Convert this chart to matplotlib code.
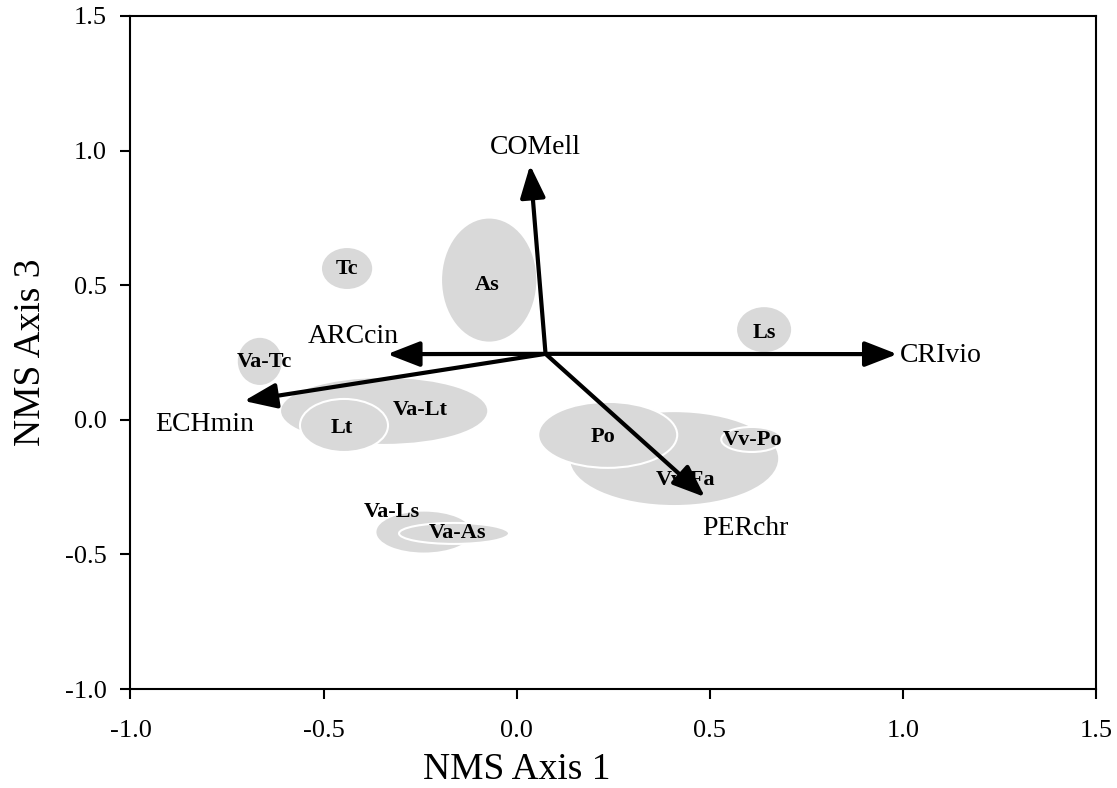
import matplotlib
matplotlib.use("Agg")
import matplotlib.pyplot as plt
from matplotlib.patches import Ellipse

# ---- data ----
group_names = ["Va-Lt", "Lt", "Va-Ls", "Va-As", "Vv-Fa", "Po", "Vv-Po", "Tc", "As", "Ls", "Va-Tc"]
group_x = [-0.343, -0.447, -0.240, -0.162, 0.408, 0.236, 0.609, -0.439, -0.071, 0.641, -0.665]
group_y = [0.033, -0.021, -0.417, -0.422, -0.144, -0.056, -0.073, 0.562, 0.519, 0.335, 0.217]
group_w = [0.534, 0.228, 0.246, 0.285, 0.539, 0.360, 0.158, 0.130, 0.244, 0.140, 0.114]
group_h = [0.245, 0.197, 0.152, 0.078, 0.345, 0.245, 0.093, 0.152, 0.457, 0.167, 0.175]
group_white_edge = [False, True, False, True, False, True, True, False, False, False, False]
label_x = [-0.250, -0.452, -0.323, -0.152, 0.437, 0.224, 0.610, -0.439, -0.076, 0.641, -0.652]
label_y = [0.036, -0.030, -0.342, -0.420, -0.224, -0.064, -0.075, 0.562, 0.500, 0.322, 0.215]

origin = (0.075, 0.245)
vec_names = ["COMell", "CRIvio", "ARCcin", "ECHmin", "PERchr"]
vec_x = [0.035, 0.986, -0.335, -0.706, 0.488]
vec_y = [0.946, 0.244, 0.244, 0.070, -0.287]
vec_lx = [0.048, 0.993, -0.424, -0.807, 0.592]
vec_ly = [1.013, 0.240, 0.308, -0.019, -0.402]
vec_ha = ["center", "left", "center", "center", "center"]

xticks = [-1.0, -0.5, 0.0, 0.5, 1.0, 1.5]
yticks = [-1.0, -0.5, 0.0, 0.5, 1.0, 1.5]

# ---- plot ----
plt.rcParams['font.family'] = ['Liberation Serif', 'DejaVu Serif']
fig = plt.figure(figsize=(11.17, 7.88), dpi=100)
ax = fig.add_axes([0.1168, 0.1256, 0.981 - 0.1168, 0.9797 - 0.1256])
ax.set_xlim(-1.0, 1.5)
ax.set_ylim(-1.0, 1.5)

for n, x, y, w, h, we in zip(group_names, group_x, group_y, group_w, group_h, group_white_edge):
    e = Ellipse((x, y), w, h, facecolor="#d9d9d9",
                edgecolor="white" if we else "none", lw=1.5, zorder=1)
    ax.add_patch(e)
for n, x, y in zip(group_names, label_x, label_y):
    ax.text(x, y, n, ha="center", va="center", fontsize=16, fontweight="bold", zorder=2)

for n, x, y, lx, ly, ha in zip(vec_names, vec_x, vec_y, vec_lx, vec_ly, vec_ha):
    ax.annotate("", xy=(x, y), xytext=origin,
                arrowprops=dict(arrowstyle="-|>,head_length=0.9,head_width=0.35",
                                lw=3, color="black", shrinkA=0, shrinkB=0,
                                mutation_scale=22),
                zorder=3)
    ax.text(lx, ly, n, ha=ha, va="center", fontsize=20, zorder=3)

ax.set_xticks(xticks)
ax.set_yticks(yticks)
ax.set_xticklabels([f"{t:.1f}" for t in xticks])
ax.set_yticklabels([f"{t:.1f}" for t in yticks])
ax.tick_params(direction="out", length=7, width=1.5, labelsize=19)
ax.tick_params(axis="x", pad=15)
ax.tick_params(axis="y", pad=10)
for s in ax.spines.values():
    s.set_linewidth(1.5)
ax.set_xlabel("NMS Axis 1", fontsize=27)
ax.set_ylabel("NMS Axis 3", fontsize=27, labelpad=12)
ax.xaxis.set_label_coords(0.40, -0.095)

fig.savefig("out.png", dpi=100)
